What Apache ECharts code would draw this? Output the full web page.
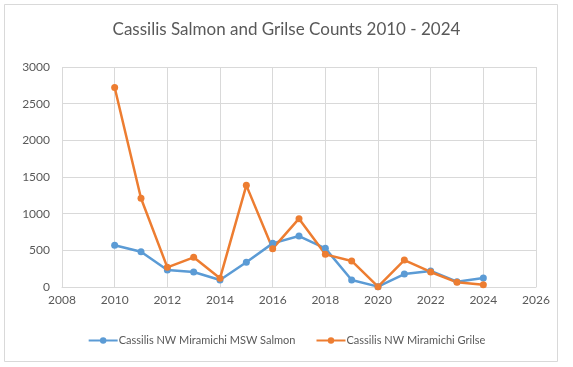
<!DOCTYPE html>
<html><head><meta charset="utf-8">
<script src="https://cdn.jsdelivr.net/npm/echarts@6/dist/echarts.min.js"></script>
<style>html,body{margin:0;padding:0;background:#fff}#c{width:573px;height:367px}</style>
</head><body><div id="c"></div>
<script>
const years = [2010,2011,2012,2013,2014,2015,2016,2017,2018,2019,2020,2021,2022,2023,2024];
const salmon = [570,480,232,204,95,337,595,695,527,95,5,177,218,73,123];
const grilse = [2720,1210,268,405,118,1386,523,932,445,355,5,368,205,64,32];
const seriesNames = ['Cassilis NW Miramichi MSW Salmon','Cassilis NW Miramichi Grilse'];
const titleText = 'Cassilis Salmon and Grilse Counts 2010 - 2024';

const chart = echarts.init(document.getElementById('c'));
const font = 'Lato, Open Sans, sans-serif';
chart.setOption({
  animation:false,
  backgroundColor:'#fff',
  graphic:[{type:'rect',shape:{x:4.5,y:4.5,width:553,height:357},style:{fill:null,stroke:'#d9d9d9',lineWidth:1},silent:true}],
  title:{text:titleText,left:'center',top:16,textStyle:{fontFamily:font,fontSize:17,fontWeight:'normal',color:'#595959'}},
  legend:{bottom:16,left:'center',itemGap:20,itemWidth:29,itemHeight:8,textStyle:{fontFamily:font,fontSize:11,color:'#595959',padding:[0,0,0,-4]},
    data:seriesNames},
  grid:{left:62,right:37,top:67,bottom:80},
  xAxis:{type:'value',min:2008,max:2026,interval:2,
    axisLine:{show:true,lineStyle:{color:'#d9d9d9'}},axisTick:{show:false},
    axisLabel:{fontFamily:font,fontSize:12,color:'#595959',margin:7,formatter:v=>String(v)},
    splitLine:{show:true,lineStyle:{color:'#d9d9d9'}}},
  yAxis:{type:'value',min:0,max:3000,interval:500,
    axisLine:{show:false},axisTick:{show:false},
    axisLabel:{fontFamily:font,fontSize:12,color:'#595959',margin:12,formatter:v=>String(v)},
    splitLine:{show:true,lineStyle:{color:'#d9d9d9'}}},
  series:[
    {name:seriesNames[0],type:'line',data:years.map((y,i)=>[y,salmon[i]]),symbol:'circle',symbolSize:7,
     itemStyle:{color:'#5b9bd5'},lineStyle:{width:2.5,color:'#5b9bd5'}},
    {name:seriesNames[1],type:'line',data:years.map((y,i)=>[y,grilse[i]]),symbol:'circle',symbolSize:7,
     itemStyle:{color:'#ed7d31'},lineStyle:{width:2.5,color:'#ed7d31'}}
  ]
});
</script></body></html>
